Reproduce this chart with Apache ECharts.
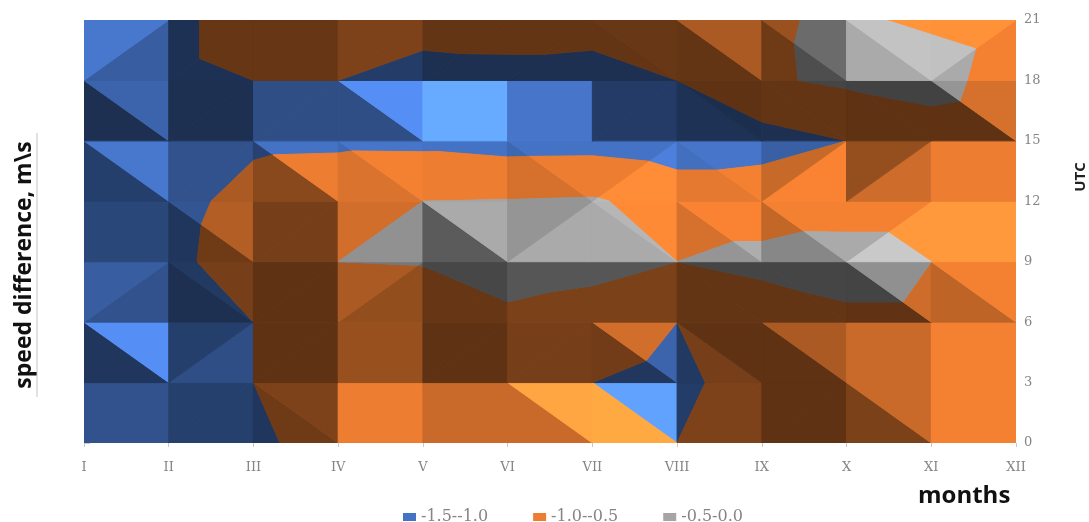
<!DOCTYPE html>
<html>
<head>
<meta charset="utf-8">
<style>html,body{margin:0;padding:0;background:#fff}#c{width:1089px;height:522px}</style>
<script src="https://cdn.jsdelivr.net/npm/echarts@6/dist/echarts.min.js"></script>
</head>
<body>
<div id="c"></div>
<script>
const months = ['I','II','III','IV','V','VI','VII','VIII','IX','X','XI','XII'];
const hours = [0,3,6,9,12,15,18,21];
const bandNames = ['-1.5--1.0','-1.0--0.5','-0.5-0.0'];
const bandLimits = [[-1.5,-1.0],[-1.0,-0.5],[-0.5,0.0]];
const bandColors = [[0x44,0x72,0xC4],[0xED,0x7D,0x31],[0xA5,0xA5,0xA5]];

// speed difference, one row per UTC hour, one column per month
const speed00 = [-1.2,-1.2,-1.15,-0.67,-0.7,-0.75,-0.7,-1.0,-0.85,-0.85,-0.7,-0.65];
const speed03 = [-1.2,-1.2,-1.0,-0.8,-0.8,-0.75,-1.0,-1.2,-0.6,-0.7,-0.7,-0.65];
const speed06 = [-1.2,-1.2,-1.0,-0.8,-0.75,-0.6,-0.65,-1.0,-0.73,-0.6,-0.6,-0.75];
const speed09 = [-1.2,-1.2,-0.6,-0.5,-0.48,-0.3,-0.4,-0.5,-0.4,-0.3,-0.5,-0.65];
const speed12 = [-1.2,-1.25,-0.75,-0.6,-0.5,-0.48,-0.45,-0.7,-0.7,-0.71,-0.71,-0.65];
const speed15 = [-1.2,-1.2,-1.12,-1.1,-1.11,-1.19,-1.18,-1.28,-1.2,-1.0,-0.8,-0.93];
const speed18 = [-1.2,-1.2,-1.0,-1.0,-1.2,-1.19,-1.25,-1.0,-0.56,-0.42,-0.28,-0.8];
const speed21 = [-1.2,-1.2,-0.65,-0.7,-0.8,-0.75,-0.75,-0.7,-0.55,-0.44,-0.57,-0.7];
const speed = [speed00,speed03,speed06,speed09,speed12,speed15,speed18,speed21];

// how each surface cell is split into two facets
const facetSplit = [
  '//\\//\\\\//\\/',
  '\\/////\\\\\\//',
  '/\\//\\//\\\\\\\\',
  '/\\//\\/\\\\\\//',
  '\\/\\\\\\\\/\\///',
  '\\//\\///\\\\\\\\',
  '//////\\\\\\\\/'
];
// lighting of the facet holding the lower edge of each cell
const shadeLower = [
  [.72,.56,.47,1.0,.85,.85,1.35,.53,.4,.52,1.03],
  [.47,.68,.4,.64,.4,.5,.48,.5,.4,.85,1.03],
  [.72,.42,.4,.62,.43,.52,.52,.42,.42,.41,.8],
  [.62,.47,.5,.88,.55,1.03,1.03,.9,.82,1.22,1.22],
  [.55,.72,.58,.92,1.0,.9,1.12,.97,1.05,.87,1.0],
  [.42,.42,.68,.68,1.5,1.03,.52,.44,.42,.4,.4],
  [.82,.43,.43,.53,.42,.42,.42,.42,.47,1.03,1.03]
];
// lighting of the facet holding the upper edge of each cell
const shadeUpper = [
  [.72,.56,.53,1.0,.85,1.32,1.42,.53,.4,.85,1.03],
  [1.25,.55,.4,.64,.4,.5,.88,.4,.72,.85,1.03],
  [.82,.5,.4,.72,.43,.52,.52,.42,.42,.87,1.03],
  [.62,.75,.5,.88,1.03,.9,1.1,1.05,1.03,1.03,1.22],
  [1.05,.72,1.0,1.03,1.0,1.0,1.0,1.03,.84,.63,1.0],
  [.88,.42,.68,1.25,1.5,1.03,.52,.4,.42,.4,.9],
  [1.05,.43,.43,.53,.42,.42,.44,.72,.65,1.18,1.17]
];

function cellFacets(c, r) {
  const bl=[c,r], br=[c+1,r], tl=[c,r+1], tr=[c+1,r+1];
  return facetSplit[r][c] === '/'
    ? [{v:[bl,br,tr],s:shadeLower[r][c]},{v:[bl,tr,tl],s:shadeUpper[r][c]}]
    : [{v:[bl,br,tl],s:shadeLower[r][c]},{v:[br,tr,tl],s:shadeUpper[r][c]}];
}
function clip(poly, keep) {
  const out=[];
  for (let i=0;i<poly.length;i++){
    const a=poly[i], b=poly[(i+1)%poly.length];
    const da=keep(a[2]), db=keep(b[2]);
    if (da>=0) out.push(a);
    if ((da>0&&db<0)||(da<0&&db>0)){
      const t=da/(da-db);
      out.push([a[0]+t*(b[0]-a[0]),a[1]+t*(b[1]-a[1]),a[2]+t*(b[2]-a[2])]);
    }
  }
  return out;
}
function area(p){let s=0;for(let i=0;i<p.length;i++){const a=p[i],b=p[(i+1)%p.length];s+=a[0]*b[1]-b[0]*a[1];}return Math.abs(s)/2;}

function bandItems(lo, hi) {
  const items=[];
  for (let r=0;r<hours.length-1;r++) for (let c=0;c<months.length-1;c++) {
    cellFacets(c,r).forEach(f=>{
      let p=f.v.map(n=>[n[0],hours[n[1]],speed[n[1]][n[0]]]);
      p=clip(p,z=>z-lo); if(p.length) p=clip(p,z=>hi-z);
      if(p.length>2&&area(p)>1e-5) items.push({value:[c,hours[r]],poly:p,shade:f.s});
    });
  }
  return items;
}
const chart=echarts.init(document.getElementById('c'),null,{renderer:'canvas'});
const series=bandNames.map((name,b)=>{
  const items=bandItems(bandLimits[b][0],bandLimits[b][1]);
  const base=bandColors[b];
  return {
    name,type:'custom',coordinateSystem:'cartesian2d',
    itemStyle:{color:'rgb('+base.join(',')+')'},
    encode:{x:0,y:1},silent:true,clip:true,
    data:items.map(o=>o.value),
    renderItem(params,api){
      const o=items[params.dataIndex];
      const col='rgb('+base.map(v=>Math.min(255,Math.round(v*o.shade))).join(',')+')';
      return {type:'polygon',shape:{points:o.poly.map(q=>api.coord([q[0],q[1]]))},
        style:{fill:col,stroke:col,lineWidth:1,lineJoin:'round'}};
    }
  };
});
const tickFont={color:'#858585',fontFamily:'DejaVu Serif',fontSize:13};
chart.setOption({
  animation:false,
  backgroundColor:'#fff',
  grid:{left:84,right:73,top:20,bottom:79},
  xAxis:{type:'value',min:0,max:months.length-1,interval:1,
    axisLine:{show:false},splitLine:{show:false},
    axisTick:{show:true,length:4,lineStyle:{color:'#c8c8c8'}},
    axisLabel:Object.assign({margin:18,formatter:v=>months[v]},tickFont)},
  yAxis:{type:'value',position:'right',min:0,max:21,interval:3,
    axisLine:{show:false},splitLine:{show:false},
    axisTick:{show:true,length:6,lineStyle:{color:'#c8c8c8'}},
    axisLabel:Object.assign({margin:8,padding:[4,0,0,0]},tickFont)},
  legend:{left:398,top:504,itemWidth:13,itemHeight:8,itemGap:45,
    data:bandNames,icon:'rect',
    textStyle:{color:'#858585',fontFamily:'DejaVu Serif',fontSize:16}},
  series,
  graphic:[
    {type:'text',left:918,top:484,style:{text:'months',fill:'#111',font:'bold 24px "Open Sans"'}},
    {type:'text',x:24,y:265,rotation:Math.PI/2,style:{text:'speed difference, m\\s',fill:'#111',font:'bold 23px "Open Sans"',align:'center',verticalAlign:'middle'}},
    {type:'line',shape:{x1:37,y1:133,x2:37,y2:397},style:{stroke:'#c4c4c4',lineWidth:1}},
    {type:'text',x:1081,y:177,rotation:Math.PI/2,style:{text:'UTC',fill:'#222',font:'bold 15px "Open Sans"',align:'center',verticalAlign:'middle'}}
  ]
});
</script>
</body>
</html>
